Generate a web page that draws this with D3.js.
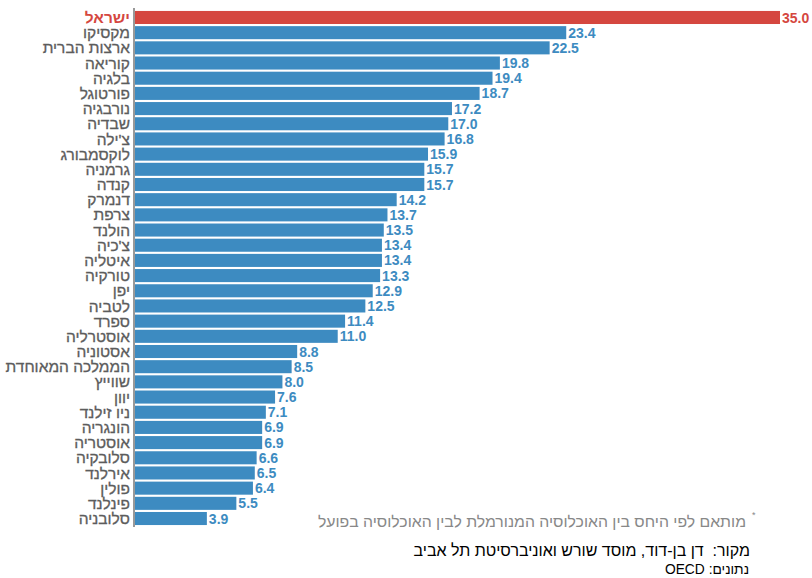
<!DOCTYPE html>
<html><head><meta charset="utf-8">
<script src="https://cdn.jsdelivr.net/npm/d3@7"></script>
<style>body{margin:0;background:#fff}svg{display:block;font-family:"Liberation Sans",Arial,sans-serif}</style>
</head><body><svg id="c" width="812" height="578"></svg>
<script>
const countries = ["ישראל","מקסיקו","ארצות הברית","קוריאה","בלגיה","פורטוגל","נורבגיה","שבדיה","צ'ילה","לוקסמבורג","גרמניה","קנדה","דנמרק","צרפת","הולנד","צ'כיה","איטליה","טורקיה","יפן","לטביה","ספרד","אוסטרליה","אסטוניה","הממלכה המאוחדת","שווייץ","יוון","ניו זילנד","הונגריה","אוסטריה","סלובקיה","אירלנד","פולין","פינלנד","סלובניה"];
const values = [35.0,23.4,22.5,19.8,19.4,18.7,17.2,17.0,16.8,15.9,15.7,15.7,14.2,13.7,13.5,13.4,13.4,13.3,12.9,12.5,11.4,11.0,8.8,8.5,8.0,7.6,7.1,6.9,6.9,6.6,6.5,6.4,5.5,3.9];
const highlight = "ישראל";
const footnote = "מותאם לפי היחס בין האוכלוסיה המנורמלת לבין האוכלוסיה בפועל";
const source = "מקור:  דן בן-דוד, מוסד שורש ואוניברסיטת תל אביב";
const dataNote = "נתונים: OECD";

const data = countries.map((c,i)=>({c, v: values[i]}));
const svg = d3.select("#c");
const x = d3.scaleLinear().domain([0,35]).range([135,780]);
const y = d3.scaleBand().domain(countries).range([10.5,525.5]).paddingInner(0.14).paddingOuter(0.03);
const blue = "#3d8bc1", red = "#d5473f";

svg.append("g").selectAll("rect").data(data).join("rect")
  .attr("x", x(0)).attr("y", d=>y(d.c)).attr("width", d=>x(d.v)-x(0)).attr("height", y.bandwidth())
  .attr("fill", d=>d.c===highlight?red:blue);

svg.append("g").selectAll("text").data(data).join("text")
  .attr("x", d=>x(d.v)+2).attr("y", d=>y(d.c)+y.bandwidth()/2).attr("dy","0.36em")
  .attr("font-size",14).attr("font-weight","bold")
  .attr("fill", d=>d.c===highlight?red:blue)
  .text(d=>d3.format(".1f")(d.v));

svg.append("g").selectAll("text").data(data).join("text")
  .attr("x", 130).attr("y", d=>y(d.c)+y.bandwidth()/2).attr("dy","0.36em")
  .attr("direction","rtl").attr("text-anchor","start")
  .attr("font-size",15.5).attr("font-weight", d=>d.c===highlight?"bold":"normal")
  .attr("fill", d=>d.c===highlight?red:"#5c5c5c")
  .attr("stroke", d=>d.c===highlight?"none":"#5c5c5c").attr("stroke-width",0.3)
  .text(d=>d.c);

svg.append("line").attr("x1",134).attr("x2",134).attr("y1",8).attr("y2",527)
  .attr("stroke","#999").attr("stroke-width",2);

svg.append("text").attr("x",752).attr("y",518).attr("font-size",9).attr("fill","#888").text("*");
svg.append("text").attr("x",746).attr("y",527).attr("direction","rtl").attr("text-anchor","start")
  .attr("font-size",15.8).attr("fill","#888").text(footnote);
svg.append("text").attr("x",750).attr("y",556).attr("direction","rtl").attr("text-anchor","start")
  .style("white-space","pre")
  .attr("font-size",16).attr("fill","#000").text(source);
svg.append("text").attr("x",749).attr("y",574).attr("direction","rtl").attr("text-anchor","start")
  .attr("font-size",13.8).attr("fill","#000").text(dataNote);
</script></body></html>
